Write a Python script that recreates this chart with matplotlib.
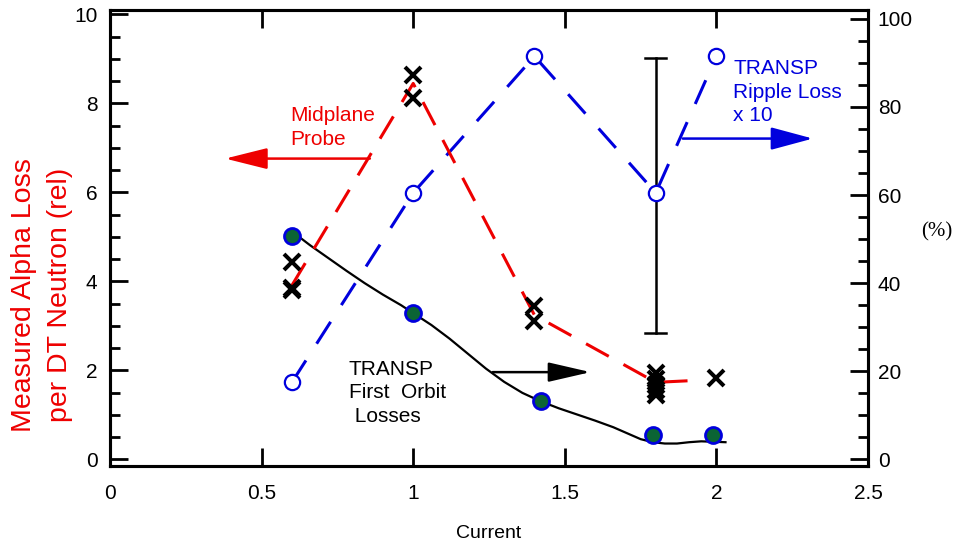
import matplotlib
matplotlib.use('Agg')
from matplotlib import pyplot as plt
from matplotlib.ticker import MultipleLocator, FormatStrFormatter

plt.rcParams['font.family'] = ['Liberation Sans', 'DejaVu Sans']

# measured alpha loss (left axis), black crosses
meas_x = [0.6, 0.6, 0.6, 1.0, 1.0, 1.4, 1.4, 1.8, 1.8, 1.8, 1.8, 1.8, 2.0]
meas_y = [4.43, 3.8, 3.85, 8.63, 8.13, 3.44, 3.12, 1.93, 1.8, 1.68, 1.56, 1.45, 1.82]

# midplane probe trend (left axis), red dashed
probe_x = [0.6, 1.0, 1.4, 1.8, 1.95]
probe_y = [3.91, 8.45, 3.24, 1.73, 1.78]

# TRANSP ripple loss x10 (right axis, %), blue open circles
ripple_x = [0.6, 1.0, 1.4, 1.8, 2.0]
ripple_y = [17.5, 60.5, 91.5, 60.5, 91.5]

# TRANSP first orbit losses (right axis, %)
orbit_x = [0.6, 1.0, 1.42, 1.79, 1.99]
orbit_y = [50.7, 33.2, 13.2, 5.5, 5.5]
orbit_curve_x = [0.62, 0.66, 0.72, 0.78, 0.84, 0.9, 0.96, 1.0, 1.06, 1.12, 1.18, 1.24,
                 1.3, 1.36, 1.42, 1.48, 1.54, 1.6, 1.66, 1.71, 1.75, 1.79, 1.83,
                 1.87, 1.91, 1.95, 1.99, 2.03]
orbit_curve_y = [50.7, 48.6, 45.7, 42.8, 40.0, 37.4, 35.0, 33.2, 30.5, 27.4, 24.0, 20.6,
                 17.6, 15.1, 13.2, 11.6, 10.2, 8.8, 7.3, 5.8, 4.6, 3.9, 3.6,
                 3.6, 3.9, 4.1, 4.0, 3.9]

# error bar at 1.8 (right axis, %)
err_x = 1.8
err_lo = 28.6
err_hi = 91.0

fig = plt.figure(figsize=(9.59, 5.48), dpi=100)
ax = fig.add_axes([110/959, 1 - 466/548, 758/959, 456/548])
ax2 = ax.twinx()

ax.set_xlim(0, 2.5)
ax.set_ylim(-0.15, 10.1)
ax2.set_ylim(-1.5, 102)

# right axis series
ax2.plot([err_x, err_x], [err_lo, err_hi], color='black', lw=1.8, zorder=2)
ax2.plot([err_x - 0.035, err_x + 0.035], [err_hi, err_hi], color='black', lw=1.8)
ax2.plot([err_x - 0.035, err_x + 0.035], [err_lo, err_lo], color='black', lw=1.8)
ax2.plot(ripple_x, ripple_y, color='#0000dd', lw=2.2, dashes=(8.5, 6.5),
         marker='o', ms=11, mfc='white', mec='#0000dd', mew=1.6)
ax2.plot(orbit_curve_x, orbit_curve_y, color='black', lw=1.6)
ax2.plot(orbit_x, orbit_y, ls='none', marker='o', ms=11.5, mfc='#0b6434',
         mec='#0000dd', mew=2)

# left axis series on top
ax.set_zorder(ax2.get_zorder() + 1)
ax.patch.set_visible(False)
ax.plot(probe_x, probe_y, color='#ee0000', lw=2.2, dashes=(8.5, 5.5))
ax.plot(meas_x, meas_y, ls='none', marker='x', ms=11, mew=2.9, color='black')

# annotations
ax.text(0.594, 7.46, 'Midplane\nProbe', color='#ee0000', fontsize=15,
        ha='left', va='center', linespacing=1.3)
ax.annotate('', xy=(0.38, 6.76), xytext=(0.857, 6.76),
            arrowprops=dict(arrowstyle='-|>,head_length=2.6,head_width=0.65',
                            mutation_scale=10, lw=1.8, color='#ee0000',
                            shrinkA=0, shrinkB=0))
ax.text(0.787, 1.5, 'TRANSP\nFirst  Orbit\n Losses', color='black', fontsize=15,
        ha='left', va='center', linespacing=1.3)
ax.annotate('', xy=(1.585, 1.96), xytext=(1.262, 1.96),
            arrowprops=dict(arrowstyle='-|>,head_length=2.6,head_width=0.6',
                            mutation_scale=10, lw=1.8, color='black',
                            shrinkA=0, shrinkB=0))
ax.text(2.055, 8.25, 'TRANSP\nRipple Loss\nx 10', color='#0000dd', fontsize=15,
        ha='left', va='center', linespacing=1.3)
ax.annotate('', xy=(2.318, 7.21), xytext=(1.889, 7.21),
            arrowprops=dict(arrowstyle='-|>,head_length=2.6,head_width=0.7',
                            mutation_scale=10, lw=1.8, color='#0000dd',
                            shrinkA=0, shrinkB=0))

# axes styling
ax.xaxis.set_major_locator(MultipleLocator(0.5))
ax.xaxis.set_major_formatter(FormatStrFormatter('%g'))
ax.yaxis.set_major_locator(MultipleLocator(2))
ax.yaxis.set_minor_locator(MultipleLocator(0.5))
ax2.yaxis.set_major_locator(MultipleLocator(20))
ax2.yaxis.set_minor_locator(MultipleLocator(5))

ax.tick_params(axis='x', which='major', direction='in', top=True, bottom=True,
               length=13, width=2, labelsize=15, pad=13)
ax.tick_params(axis='y', which='major', direction='in', left=True, right=False,
               length=13, width=2, labelsize=15, pad=9)
ax.tick_params(axis='y', which='minor', direction='in', left=True, right=False,
               length=7, width=2)
ax2.tick_params(axis='y', which='major', direction='in', right=True, left=False,
                length=13, width=2, labelsize=15, pad=7)
ax2.tick_params(axis='y', which='minor', direction='in', right=True, left=False,
                length=7, width=2)
for a in (ax, ax2):
    for s in a.spines.values():
        s.set_linewidth(2.2)

ax.set_xlabel('Current', fontsize=14, labelpad=16)
fig.text(42/959, 1 - 295/548, 'Measured Alpha Loss\nper DT Neutron (rel)',
         color='#ee0000', fontsize=20.5, rotation=90, ha='center', va='center',
         multialignment='center', linespacing=1.5)
fig.text(937/959, 1 - 232/548, '(%)', fontsize=15, family='Liberation Serif',
         ha='center', va='center')

fig.savefig('out.png', dpi=100)
